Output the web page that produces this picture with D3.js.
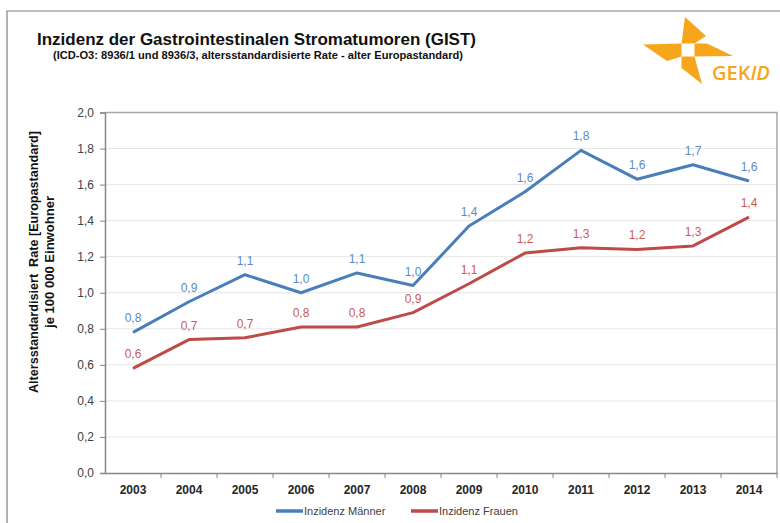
<!DOCTYPE html>
<html>
<head>
<meta charset="utf-8">
<script src="https://cdn.jsdelivr.net/npm/d3@7"></script>
<style>
  body { margin: 0; background: #fff; }
  svg { display: block; font-family: "Liberation Sans", Arial, sans-serif; }
</style>
</head>
<body>
<script>
// chart data
var years = ["2003", "2004", "2005", "2006", "2007", "2008",
             "2009", "2010", "2011", "2012", "2013", "2014"];
var maenner = [0.78, 0.95, 1.10, 1.00, 1.11, 1.04, 1.37, 1.56, 1.79, 1.63, 1.71, 1.62];
var frauen  = [0.58, 0.74, 0.75, 0.81, 0.81, 0.89, 1.05, 1.22, 1.25, 1.24, 1.26, 1.42];
var maennerLabels = ["0,8", "0,9", "1,1", "1,0", "1,1", "1,0", "1,4", "1,6", "1,8", "1,6", "1,7", "1,6"];
var frauenLabels  = ["0,6", "0,7", "0,7", "0,8", "0,8", "0,9", "1,1", "1,2", "1,3", "1,2", "1,3", "1,4"];
var yTicks = [0, 0.2, 0.4, 0.6, 0.8, 1.0, 1.2, 1.4, 1.6, 1.8, 2.0];

var width = 780, height = 523;
var plot = { left: 105, top: 112.5, right: 777, bottom: 473 };

var svg = d3.select("body").append("svg")
    .attr("width", width)
    .attr("height", height);

// outer frame (only top and left edges are visible)
svg.append("path")
    .attr("d", "M7,523 L7,11 L780,11")
    .attr("fill", "none")
    .attr("stroke", "#808080")
    .attr("stroke-width", 1.2);

// title + subtitle
svg.append("text")
    .attr("x", 37).attr("y", 45)
    .attr("font-size", 16.5).attr("font-weight", "bold")
    .attr("fill", "#111")
    .attr("textLength", 439).attr("lengthAdjust", "spacingAndGlyphs")
    .text("Inzidenz der Gastrointestinalen Stromatumoren (GIST)");

svg.append("text")
    .attr("x", 53).attr("y", 58.5)
    .attr("font-size", 10).attr("font-weight", "bold")
    .attr("fill", "#111")
    .attr("textLength", 410).attr("lengthAdjust", "spacingAndGlyphs")
    .text("(ICD-O3: 8936/1 und 8936/3, altersstandardisierte Rate - alter Europastandard)");

// GEKID logo
var orange = "#f7a61c";
var logo = svg.append("g");
var arms = [
    [[685, 17], [706, 36], [694.5, 43.5], [681.5, 43.5]],
    [[694.5, 43.5], [707, 43.5], [733, 56], [694.5, 56.5]],
    [[681.5, 56.5], [694.5, 56.5], [702, 84], [681.5, 68]],
    [[643, 44.5], [681.5, 43.5], [681.5, 56.5], [667, 61]]
];
logo.selectAll("polygon")
    .data(arms)
    .enter()
    .append("polygon")
    .attr("points", function (d) { return d.map(function (p) { return p.join(","); }).join(" "); })
    .attr("fill", orange);
var gekid = logo.append("text")
    .attr("x", 712).attr("y", 80)
    .attr("font-size", 20)
    .attr("font-weight", 600)
    .attr("fill", orange)
    .attr("font-family", "'Open Sans', 'DejaVu Sans', sans-serif");
gekid.append("tspan").text("GEK");
gekid.append("tspan").attr("font-style", "italic").text("ID");

// scales
var x = d3.scaleBand().domain(years).range([plot.left, plot.right]);
var y = d3.scaleLinear().domain([0, 2]).range([plot.bottom, plot.top]);

// gridlines
svg.append("g")
    .selectAll("line")
    .data(yTicks.slice(1, -1))
    .enter()
    .append("line")
    .attr("x1", plot.left).attr("x2", plot.right)
    .attr("y1", function (d) { return y(d); })
    .attr("y2", function (d) { return y(d); })
    .attr("stroke", "#e6e6e6")
    .attr("stroke-width", 1);

// plot border top + right
svg.append("path")
    .attr("d", "M" + plot.left + "," + plot.top + " L" + plot.right + "," + plot.top + " L" + plot.right + "," + plot.bottom)
    .attr("fill", "none")
    .attr("stroke", "#a6a6a6")
    .attr("stroke-width", 1.5);

// y axis
var yAxis = svg.append("g")
    .attr("transform", "translate(" + plot.left + ",0)")
    .call(d3.axisLeft(y)
        .tickValues(yTicks)
        .tickSize(5)
        .tickPadding(6)
        .tickFormat(function (d) { return d3.format(".1f")(d).replace(".", ","); }));
yAxis.select(".domain").attr("stroke", "#868686").attr("stroke-width", 1.5);
yAxis.selectAll(".tick line").attr("stroke", "#868686");
yAxis.selectAll("text")
    .attr("font-size", 12)
    .attr("fill", "#404040")
    .attr("font-family", "'Liberation Sans', Arial, sans-serif");

// x axis
var xAxis = svg.append("g")
    .attr("transform", "translate(0," + plot.bottom + ")")
    .call(d3.axisBottom(x).tickSize(0).tickPadding(12));
xAxis.select(".domain").attr("stroke", "#868686").attr("stroke-width", 1.5);
xAxis.selectAll("text")
    .attr("font-size", 12)
    .attr("font-weight", "bold")
    .attr("fill", "#262626")
    .attr("font-family", "'Liberation Sans', Arial, sans-serif");

// x tick marks on band edges
svg.append("g")
    .selectAll("line")
    .data(years)
    .enter()
    .append("line")
    .attr("x1", function (d) { return x(d) + x.bandwidth(); })
    .attr("x2", function (d) { return x(d) + x.bandwidth(); })
    .attr("y1", plot.bottom)
    .attr("y2", plot.bottom + 5)
    .attr("stroke", "#868686");

// y axis title
var yTitle = svg.append("text")
    .attr("transform", "translate(38,262) rotate(-90)")
    .attr("text-anchor", "middle")
    .attr("font-size", 12.5)
    .attr("font-weight", "bold")
    .attr("fill", "#111")
    .style("white-space", "pre");
yTitle.append("tspan").attr("x", 0).attr("y", 0)
    .attr("textLength", 262).attr("lengthAdjust", "spacingAndGlyphs")
    .text("Altersstandardisiert  Rate [Europastandard]");
yTitle.append("tspan").attr("x", 0).attr("y", 15.5)
    .attr("textLength", 132).attr("lengthAdjust", "spacingAndGlyphs")
    .text("je 100 000 Einwohner");

// series
var series = [
    { name: "Inzidenz Männer", values: maenner, labels: maennerLabels, color: "#4a7ebb", labelColor: "#5b8bc6" },
    { name: "Inzidenz Frauen", values: frauen, labels: frauenLabels, color: "#be4b48", labelColor: "#cc5b58" }
];

var line = d3.line()
    .x(function (d, i) { return x(years[i]) + x.bandwidth() / 2; })
    .y(function (d) { return y(d); });

series.forEach(function (s) {
    svg.append("path")
        .datum(s.values)
        .attr("d", line)
        .attr("fill", "none")
        .attr("stroke", s.color)
        .attr("stroke-width", 3)
        .attr("stroke-linejoin", "round");

    svg.append("g")
        .selectAll("text")
        .data(s.values)
        .enter()
        .append("text")
        .attr("x", function (d, i) { return x(years[i]) + x.bandwidth() / 2; })
        .attr("y", function (d) { return y(d) - 10; })
        .attr("text-anchor", "middle")
        .attr("font-size", 12)
        .attr("fill", s.labelColor)
        .text(function (d, i) { return s.labels[i]; });
});

// legend
var legendX = [276, 411];
var legend = svg.append("g")
    .selectAll("g")
    .data(series)
    .enter()
    .append("g")
    .attr("transform", function (d, i) { return "translate(" + legendX[i] + ",511)"; });
legend.append("line")
    .attr("x1", 0).attr("x2", 27)
    .attr("stroke", function (d) { return d.color; })
    .attr("stroke-width", 3.5);
legend.append("text")
    .attr("x", 28).attr("y", 4)
    .attr("font-size", 11)
    .attr("fill", "#404040")
    .text(function (d) { return d.name; });
</script>
</body>
</html>
